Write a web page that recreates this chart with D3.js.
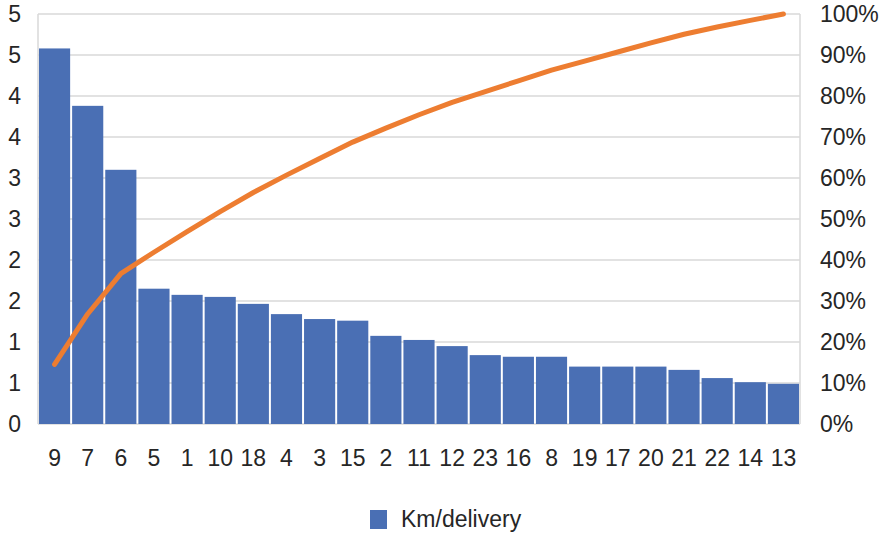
<!DOCTYPE html>
<html>
<head>
<meta charset="utf-8">
<script src="https://cdn.jsdelivr.net/npm/d3@7"></script>
<style>
  html, body { margin: 0; padding: 0; background: #fff; }
  svg { display: block; font-family: "Liberation Sans", Arial, sans-serif; }
</style>
</head>
<body>
<svg id="chart" width="887" height="536"></svg>
<script>
// Delivery zones sorted by km per delivery (Pareto order)
const categories = ["9","7","6","5","1","10","18","4","3","15","2","11","12","23","16","8","19","17","20","21","22","14","13"];
const kmPerDelivery = [4.58,3.88,3.10,1.65,1.575,1.55,1.465,1.34,1.28,1.26,1.075,1.025,0.95,0.84,0.82,0.82,0.70,0.70,0.70,0.66,0.56,0.51,0.49];
const leftTicks = [0,0.5,1,1.5,2,2.5,3,3.5,4,4.5,5];
const rightTicks = [0,0.1,0.2,0.3,0.4,0.5,0.6,0.7,0.8,0.9,1];
const seriesName = "Km/delivery";

// Cumulative share of the total, for the Pareto line
const total = d3.sum(kmPerDelivery);
let running = 0;
const cumulative = kmPerDelivery.map(v => (running += v) / total);

const svg = d3.select("#chart");
const plot = { left: 38, right: 800, top: 14, bottom: 424 };

const x = d3.scaleBand().domain(categories).range([plot.left, plot.right])
  .paddingInner(0.06).paddingOuter(0.03);
const y = d3.scaleLinear().domain([0, 5]).range([plot.bottom, plot.top]);
const y2 = d3.scaleLinear().domain([0, 1]).range([plot.bottom, plot.top]);

const gridColor = "#d9d9d9";
const textColor = "#262626";
const fontSize = "23px";

// Horizontal gridlines
svg.append("g").selectAll("line").data(leftTicks).join("line")
  .attr("x1", plot.left).attr("x2", plot.right)
  .attr("y1", d => y(d)).attr("y2", d => y(d))
  .attr("stroke", gridColor).attr("stroke-width", 1.5);

// Plot-area sides
svg.append("g").selectAll("line").data([plot.left, plot.right]).join("line")
  .attr("x1", d => d).attr("x2", d => d)
  .attr("y1", plot.top).attr("y2", plot.bottom)
  .attr("stroke", gridColor).attr("stroke-width", 1.5);

// Bars
svg.append("g").selectAll("rect").data(kmPerDelivery).join("rect")
  .attr("x", (d, i) => x(categories[i]))
  .attr("width", x.bandwidth())
  .attr("y", d => y(d))
  .attr("height", d => y(0) - y(d))
  .attr("fill", "#4a6fb4");

// Cumulative percentage line
const line = d3.line()
  .x((d, i) => x(categories[i]) + x.bandwidth() / 2)
  .y(d => y2(d));
svg.append("path").datum(cumulative)
  .attr("d", line)
  .attr("fill", "none")
  .attr("stroke", "#ed7d31")
  .attr("stroke-width", 5)
  .attr("stroke-linecap", "round")
  .attr("stroke-linejoin", "round");

// Left axis (values rounded to whole numbers)
const leftAxis = d3.axisLeft(y).tickValues(leftTicks)
  .tickFormat(d => d3.format(".0f")(Math.round(d + 1e-9)))
  .tickSize(0).tickPadding(17);
const gl = svg.append("g").attr("transform", `translate(${plot.left},0)`).call(leftAxis);
gl.select(".domain").remove();
gl.selectAll("text").attr("font-size", fontSize).attr("fill", textColor)
  .attr("font-family", "Liberation Sans, Arial, sans-serif");

// Right axis (percent)
const rightAxis = d3.axisRight(y2).tickValues(rightTicks)
  .tickFormat(d3.format(".0%")).tickSize(0).tickPadding(20);
const gr = svg.append("g").attr("transform", `translate(${plot.right},0)`).call(rightAxis);
gr.select(".domain").remove();
gr.selectAll("text").attr("font-size", fontSize).attr("fill", textColor)
  .attr("font-family", "Liberation Sans, Arial, sans-serif");

// Category axis
const bottomAxis = d3.axisBottom(x).tickSize(0).tickPadding(26);
const gb = svg.append("g").attr("transform", `translate(0,${plot.bottom})`).call(bottomAxis);
gb.select(".domain").remove();
gb.selectAll("text").attr("font-size", fontSize).attr("fill", textColor)
  .attr("font-family", "Liberation Sans, Arial, sans-serif");

// Legend
const legend = svg.append("g").attr("transform", "translate(370,510)");
legend.append("rect").attr("width", 17).attr("height", 19).attr("fill", "#4a6fb4");
legend.append("text").attr("x", 31).attr("y", 17)
  .attr("font-size", fontSize).attr("fill", textColor).text(seriesName);
</script>
</body>
</html>
